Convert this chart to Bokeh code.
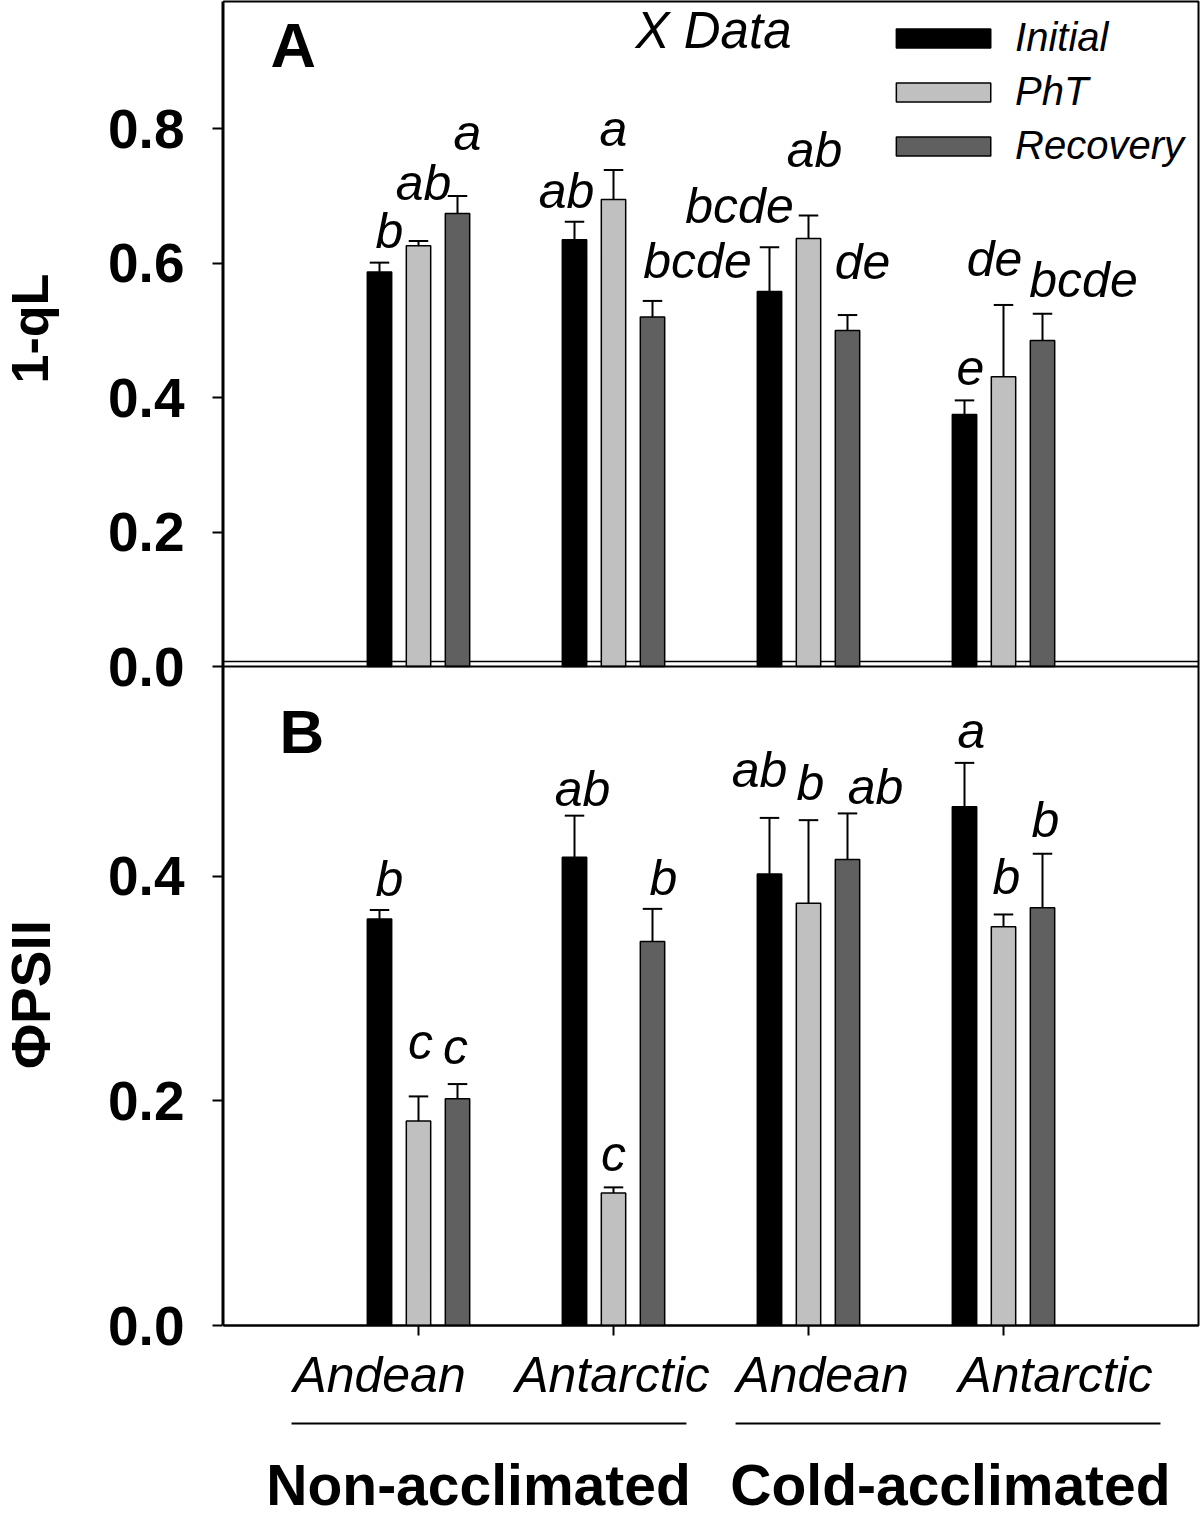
import numpy as np
from bokeh.plotting import figure
from bokeh.layouts import row, column
from bokeh.models import (Range1d, FixedTicker, Span, Legend, LegendItem,
                          ColumnDataSource)
from bokeh.core.properties import value
from bokeh.embed import file_html
from bokeh.resources import INLINE

# ---------------- data ----------------
groups = [1, 2, 3, 4]
group_names = ["Andean", "Antarctic", "Andean", "Antarctic"]
acclimation = ["Non-acclimated", "Cold-acclimated"]
series_names = ["Initial", "PhT", "Recovery"]

# Panel A : 1-qL
qL_initial = [0.587, 0.635, 0.558, 0.375]
qL_initial_err = [0.014, 0.027, 0.066, 0.021]
qL_pht = [0.626, 0.695, 0.637, 0.431]
qL_pht_err = [0.007, 0.044, 0.034, 0.107]
qL_recovery = [0.674, 0.520, 0.500, 0.485]
qL_recovery_err = [0.026, 0.024, 0.023, 0.040]
qL_letters_initial = ["b", "ab", "bcde", "e"]
qL_letters_pht = ["ab", "a", "ab", "de"]
qL_letters_recovery = ["a", "bcde", "de", "bcde"]

# Panel B : PhiPSII
psii_initial = [0.362, 0.417, 0.402, 0.462]
psii_initial_err = [0.008, 0.037, 0.050, 0.039]
psii_pht = [0.182, 0.118, 0.376, 0.355]
psii_pht_err = [0.022, 0.005, 0.074, 0.011]
psii_recovery = [0.202, 0.342, 0.415, 0.372]
psii_recovery_err = [0.013, 0.029, 0.041, 0.048]
psii_letters_initial = ["b", "ab", "ab", "a"]
psii_letters_pht = ["c", "c", "b", "b"]
psii_letters_recovery = ["c", "b", "ab", "b"]

ticks_A = [0.0, 0.2, 0.4, 0.6, 0.8]
ticks_B = [0.0, 0.2, 0.4]

# ---------------- layout / style ----------------
FONT = value("Liberation Sans")
FONT_NAME = "Liberation Sans"
BASE_FIX = 0.36          # baseline correction (em) for svg text

TOTAL_H = 1518
TITLE_W = 100            # strip with the y titles
AXIS_W = 123             # strip holding the y axis
MAIN_W, MAIN_H = 977, 1345
BR, BT, BB = 2, 1, 20
BOTTOM_H = TOTAL_H - MAIN_H
FRAME_H = MAIN_H - BT - BB
STRIP_BB = TOTAL_H - BT - FRAME_H
PX_A = 672.0             # px per unit, panel A
PX_B = 1123.0            # px per unit, panel B
SPLIT = 665.0            # px from frame top to panel A zero line

b_end = FRAME_H / PX_B
a_start = -(FRAME_H - SPLIT) / PX_A
a_end = SPLIT / PX_A

x_range = Range1d(0, 5)
y_range = Range1d(0, b_end)


def a_to_b(a):
    return (FRAME_H - (SPLIT - a * PX_A)) / PX_B


def bare(fig):
    fig.outline_line_color = None
    fig.xgrid.visible = False
    fig.ygrid.visible = False


def put_text(fig, x, y, txt, size, style, align="left", angle=0.0,
             y_range_name="default"):
    if angle:
        xo, yo = -BASE_FIX * size, 0
    else:
        xo, yo = 0, -BASE_FIX * size
    fig.text(x=[x], y=[y], text=[txt], angle=angle, x_offset=xo, y_offset=yo,
             y_range_name=y_range_name, text_font=FONT, text_font_style=style,
             text_font_size=f"{size}px", text_align=align,
             text_baseline="alphabetic", text_color="black")


# ---- main plotting area ----
p = figure(width=MAIN_W, height=MAIN_H, output_backend="svg",
           toolbar_location=None, x_range=x_range, y_range=y_range,
           y_axis_location=None,
           min_border_left=0, min_border_right=BR, min_border_top=BT,
           min_border_bottom=BB)
p.extra_y_ranges = {"A": Range1d(a_start, a_end)}
p.xgrid.visible = False
p.ygrid.visible = False
p.outline_line_color = "black"
p.outline_line_width = 2

xax = p.xaxis[0]
xax.ticker = FixedTicker(ticks=groups)
xax.major_label_overrides = {g: "" for g in groups}
xax.major_label_text_font_size = "6px"
xax.major_label_standoff = 0
xax.major_tick_out = 10
xax.major_tick_in = 0
xax.minor_tick_out = 0
xax.minor_tick_in = 0
xax.major_tick_line_width = 2
xax.axis_line_width = 2

# separator lines between panels
p.add_layout(Span(location=0.0074, dimension="width", y_range_name="A",
                  line_color="black", line_width=1.5, level="underlay"))
p.add_layout(Span(location=0.0, dimension="width", y_range_name="A",
                  line_color="black", line_width=2))

fills = ["#000000", "#c0c0c0", "#606060"]
offsets = [-0.2, 0.0, 0.2]
BAR_W = 0.125
CAP = 0.05
LETTER_SIZE = 50

panelA = [(qL_initial, qL_initial_err, qL_letters_initial),
          (qL_pht, qL_pht_err, qL_letters_pht),
          (qL_recovery, qL_recovery_err, qL_letters_recovery)]
panelB = [(psii_initial, psii_initial_err, psii_letters_initial),
          (psii_pht, psii_pht_err, psii_letters_pht),
          (psii_recovery, psii_recovery_err, psii_letters_recovery)]

# label nudges in screen px (dx right, dy up) relative to error-bar top
nudge_A = [[(10, 14), (-8, 13), (-30, 23), (6, 15)],
           [(5, 40), (0, 23), (6, 48), (-9, 28)],
           [(10, 45), (45, 22), (15, 35), (41, 16)]]
nudge_B = [[(10, 13), (8, 9), (-10, 30), (7, 14)],
           [(2, 36), (0, 15), (2, 19), (3, 19)],
           [(-2, 19), (11, 13), (28, 8), (3, 16)]]

legend_renderers = []
for panel, rng, nudges in ((panelA, "A", nudge_A), (panelB, "default", nudge_B)):
    for k, (vals, errs, letters) in enumerate(panel):
        xs = np.array(groups, dtype=float) + offsets[k]
        vals = np.array(vals)
        errs = np.array(errs)
        src = ColumnDataSource(dict(
            x=xs, top=vals, up=vals + errs, x0=xs - CAP, x1=xs + CAP,
            text=letters, dx=[n[0] for n in nudges[k]],
            dy=[-n[1] - BASE_FIX * LETTER_SIZE for n in nudges[k]]))
        r = p.vbar(x="x", top="top", bottom=0, width=BAR_W, source=src,
                   y_range_name=rng, fill_color=fills[k], line_color="black",
                   line_width=1.5)
        p.segment(x0="x", y0="top", x1="x", y1="up", source=src,
                  y_range_name=rng, line_color="black", line_width=2)
        p.segment(x0="x0", y0="up", x1="x1", y1="up", source=src,
                  y_range_name=rng, line_color="black", line_width=2)
        p.text(x="x", y="up", text="text", x_offset="dx", y_offset="dy",
               source=src, y_range_name=rng, text_font=FONT,
               text_font_style="italic", text_font_size=f"{LETTER_SIZE}px",
               text_align="center", text_baseline="alphabetic",
               text_color="black")
        if rng == "A":
            legend_renderers.append(r)

legend = Legend(items=[LegendItem(label=n, renderers=[r])
                       for n, r in zip(series_names, legend_renderers)],
                location="top_right", orientation="vertical")
legend.background_fill_alpha = 0
legend.border_line_alpha = 0
legend.padding = 0
legend.margin = 14
legend.spacing = 9
legend.glyph_width = 118
legend.glyph_height = 24
legend.label_standoff = 13
legend.label_height = 24
legend.label_text_font = FONT_NAME
legend.label_text_font_style = "italic"
legend.label_text_font_size = "40px"
legend.label_text_color = "black"
p.add_layout(legend)

# panel annotations (inside the frame)
put_text(p, 0.241, 0.8914, "A", 63, "bold", y_range_name="A")
put_text(p, 0.287, 0.5093, "B", 62, "bold")
put_text(p, 2.513, 0.9196, "X Data", 51, "italic", align="center", y_range_name="A")

# ---- y-axis strip (shares the y range of the main area) ----
ax = figure(width=AXIS_W, height=TOTAL_H, output_backend="svg",
            toolbar_location=None, x_range=Range1d(0, 1), y_range=y_range,
            x_axis_location=None, min_border_left=AXIS_W - 1,
            min_border_right=0, min_border_top=BT,
            min_border_bottom=STRIP_BB)
bare(ax)
yticks = list(ticks_B) + [a_to_b(t) for t in ticks_A]
overrides = {t: f"{t:.1f}" for t in ticks_B}
for t in ticks_A:
    overrides[a_to_b(t)] = f"{t:.1f}"
yax = ax.yaxis[0]
yax.ticker = FixedTicker(ticks=yticks)
yax.major_label_overrides = overrides
yax.major_tick_out = 10
yax.major_tick_in = 0
yax.minor_tick_out = 0
yax.minor_tick_in = 0
yax.major_tick_line_width = 2
yax.axis_line_width = 2
yax.major_label_standoff = 28
yax.major_label_text_font = FONT_NAME
yax.major_label_text_font_style = "bold"
yax.major_label_text_font_size = "55px"
yax.major_label_text_color = "black"

# ---- left strip: y-axis titles (frame aligned with the main frame; page px) ----
left = figure(width=TITLE_W, height=TOTAL_H, output_backend="svg",
              toolbar_location=None, x_range=Range1d(0, TITLE_W),
              y_range=Range1d(BT + FRAME_H, BT), x_axis_location=None,
              y_axis_location=None, min_border_left=0, min_border_right=0,
              min_border_top=BT, min_border_bottom=STRIP_BB)
bare(left)
put_text(left, 48, 328, "1-qL", 52, "bold", align="center", angle=np.pi / 2)
put_text(left, 50, 994, "\u03a6PSII", 55, "bold", align="center", angle=np.pi / 2)

# ---- bottom strip: category and group labels ----
bottom = figure(width=MAIN_W, height=BOTTOM_H, output_backend="svg",
                toolbar_location=None, x_range=x_range,
                y_range=Range1d(TOTAL_H, MAIN_H),
                x_axis_location=None, y_axis_location=None,
                min_border_left=0, min_border_right=BR,
                min_border_top=0, min_border_bottom=0)
bare(bottom)

cat_x = [0.800, 1.995, 3.072, 4.267]
for cx, name in zip(cat_x, group_names):
    put_text(bottom, cx, 1392, name, 50, "italic", align="center")

bracket_x0 = [0.349, 2.626]
bracket_x1 = [2.374, 4.805]
bottom.segment(x0=bracket_x0, y0=[1423, 1423], x1=bracket_x1, y1=[1423, 1423],
               line_color="black", line_width=2)
group_x = [1.308, 3.728]
for gx, name in zip(group_x, acclimation):
    put_text(bottom, gx, 1505, name, 57, "bold", align="center")

layout = row(left, ax, column(p, bottom, spacing=0), spacing=0)
open("out.html", "w").write(file_html(layout, INLINE))
